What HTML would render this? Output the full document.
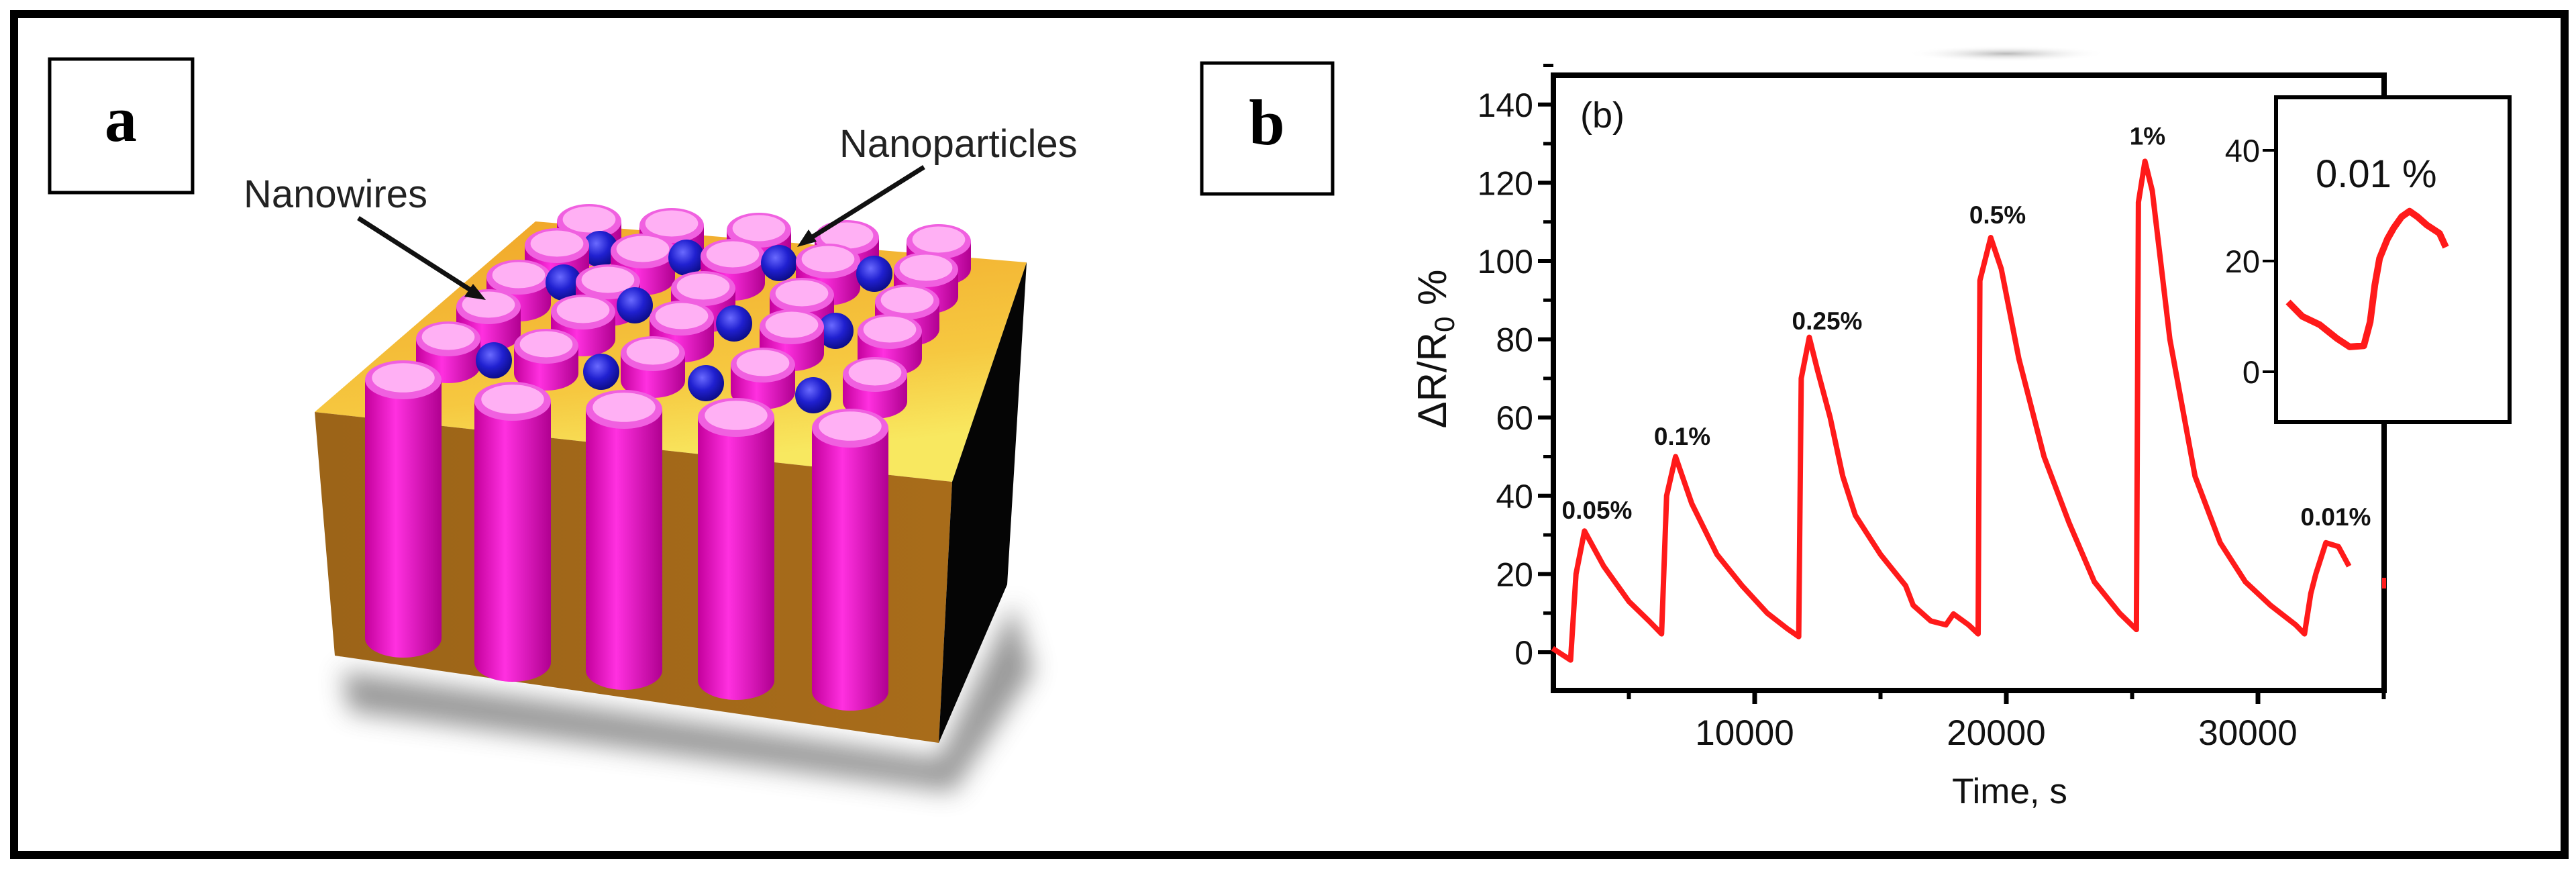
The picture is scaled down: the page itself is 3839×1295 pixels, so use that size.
<!DOCTYPE html>
<html><head><meta charset="utf-8">
<style>
html,body{margin:0;padding:0;background:#fff;}
svg{display:block;font-family:"Liberation Sans",sans-serif;}
</style></head>
<body>
<svg id="fig" width="3839" height="1295" viewBox="0 0 3839 1295" xmlns="http://www.w3.org/2000/svg">
<defs>
<linearGradient id="mag" x1="0" x2="1" y1="0" y2="0">
<stop offset="0" stop-color="#c4009c"/><stop offset="0.4" stop-color="#ff30e0"/><stop offset="1" stop-color="#b00090"/>
</linearGradient>
<radialGradient id="ball" cx="0.4" cy="0.35" r="0.7">
<stop offset="0" stop-color="#6a6aff"/><stop offset="0.5" stop-color="#2020d0"/><stop offset="1" stop-color="#0a0a80"/>
</radialGradient>
<linearGradient id="topface" x1="0" x2="0.3" y1="0" y2="1">
<stop offset="0" stop-color="#f0a428"/><stop offset="0.7" stop-color="#f6c840"/><stop offset="1" stop-color="#f8e860"/>
</linearGradient>
<linearGradient id="front" x1="0" x2="1"><stop offset="0" stop-color="#9c6418"/><stop offset="1" stop-color="#a86c1a"/></linearGradient>
<filter id="blur" x="-20%" y="-50%" width="140%" height="200%"><feGaussianBlur stdDeviation="18"/></filter>
<radialGradient id="smudge" cx="0.5" cy="0.5" r="0.5"><stop offset="0" stop-color="#999" stop-opacity="0.7"/><stop offset="1" stop-color="#fff" stop-opacity="0"/></radialGradient>
</defs>
<rect x="21" y="21" width="3801" height="1253" fill="#fff" stroke="#000" stroke-width="12"/>

<!-- Panel a -->
<g>
<rect x="74" y="88" width="213" height="199" fill="#fff" stroke="#000" stroke-width="5"/>
<text x="180" y="210" font-family="Liberation Serif,serif" font-weight="bold" font-size="96" text-anchor="middle">a</text>
<polygon points="510,1000 1400,1130 1510,900 1540,1000 1420,1180 520,1060" fill="#555" opacity="0.6" filter="url(#blur)"/>
<polygon points="469,614 798,330 1530,391 1419,718" fill="url(#topface)"/>
<polygon points="469,614 1419,718 1399,1107 499,977" fill="url(#front)"/>
<polygon points="1419,718 1530,391 1501,871 1399,1107" fill="#050505"/>
<g id="wires"></g>
<text x="363" y="309" font-size="58" fill="#222">Nanowires</text>
<line x1="534" y1="325" x2="712" y2="439" stroke="#111" stroke-width="7"/>
<polygon points="724,447 692,442 705,423" fill="#111"/>
<text x="1251" y="234" font-size="58" fill="#222">Nanoparticles</text>
<line x1="1377" y1="249" x2="1198" y2="361" stroke="#111" stroke-width="7"/>
<polygon points="1188,368 1205,342 1217,360" fill="#111"/>
</g>

<!-- Panel b -->
<g>
<rect x="1791" y="94" width="195" height="195" fill="#fff" stroke="#000" stroke-width="5"/>
<text x="1888" y="215" font-family="Liberation Serif,serif" font-weight="bold" font-size="96" text-anchor="middle">b</text>
<ellipse cx="2990" cy="80" rx="150" ry="12" fill="url(#smudge)"/>
<g id="chart"></g>
</g>
</svg>
<script>
// ===== chart data =====
const timeVals = [1968,2683,2900,3237,4000,5000,5800,6300,6500,6856,7500,8500,9500,10500,11300,11750,11850,12170,12500,13000,13500,14000,15000,16000,16300,17000,17600,17900,18500,18880,18950,19380,19800,20500,21500,22500,23500,24500,25170,25250,25510,25800,26500,27500,28500,29500,30500,31500,31850,32100,32300,32700,33200,33620];
const respVals = [1,-2,20,31,22,13,8,4.7,40,50,38,25,17,10,6,4,70,80.5,72,60,45,35,25,17,12,8,7,9.8,7,4.7,95,106,98,75,50,33,18,10,5.8,115,125.5,118,80,45,28,18,12,7,4.7,15,20,28,27,22];
const peakLabels = ["0.05%","0.1%","0.25%","0.5%","1%","0.01%"];
const peakLabelTimes = [3733,7120,12880,19653,25613,33093];
const peakLabelVals = [34.1,53,82.5,109.6,129.8,32.4];
const yTicks = [0,20,40,60,80,100,120,140];
const xTicks = [10000,20000,30000];
const xMinorTicks = [5000,15000,25000,35000];
const insetU = [0,9,20,31,39,48,52,55,58,63,67,72,77,82,88,96,100];
const insetVals = [12.6,10,8.5,6,4.5,4.7,9,15.7,20.5,24,26,28,29,28,26.5,25,22.5];
const insetTicks = [0,20,40];

// ===== nanowire illustration data =====
const backRows = [
 [[878,330],[1001,336],[1131,343],[1262,354],[1399,360]],
 [[830,366],[958,374],[1092,382],[1234,389],[1380,402]],
 [[773,413],[906,420],[1048,430],[1195,440],[1352,450]],
 [[728,457],[869,465],[1016,474],[1180,487],[1326,494]],
 [[668,505],[814,516],[973,527],[1137,544],[1304,558]]
];
const balls = [[894,371],[1023,384],[1161,392],[1303,408],[840,421],[946,455],[1094,482],[1245,493],[736,537],[896,554],[1052,571],[1212,589]];
const frontWires = [[601,566,951],[764,598,987],[930,610,999],[1097,622,1014],[1267,638,1030]];

const NS="http://www.w3.org/2000/svg";
function mk(tag, attrs, parent){const e=document.createElementNS(NS,tag);for(const k in attrs)e.setAttribute(k,attrs[k]);parent.appendChild(e);return e;}

// illustration
const wires=document.getElementById('wires');
const items=[];
backRows.forEach(r=>r.forEach(p=>items.push({k:'s',x:p[0],y:p[1],o:p[1]})));
balls.forEach(b=>items.push({k:'b',x:b[0],y:b[1],o:b[1]-8}));
frontWires.forEach(w=>items.push({k:'t',x:w[0],y:w[1],b:w[2],o:w[1]}));
items.sort((a,b)=>a.o-b.o);
items.forEach(it=>{
  if(it.k==='b'){
    const c=mk('circle',{cx:it.x,cy:it.y,r:27,fill:'url(#ball)'},wires);
    
    
    return;
  }
  const rx=it.k==='t'?57:48, ry=it.k==='t'?29:26, h=it.k==='t'?(it.b-it.y):40;
  const g=mk('g',{},wires);
  
  
  mk('rect',{x:it.x-rx,y:it.y,width:2*rx,height:h,fill:'url(#mag)'},g);
  mk('ellipse',{cx:it.x,cy:it.y+h,rx:rx,ry:ry,fill:'url(#mag)'},g);
  mk('ellipse',{cx:it.x,cy:it.y,rx:rx,ry:ry,fill:'#f060e0'},g);
  mk('ellipse',{cx:it.x,cy:it.y-3,rx:rx*0.82,ry:ry*0.75,fill:'#ffb0f4'},g);
});

// chart axes
const chart=document.getElementById('chart');
const X0=2315,X1=3553,Y0=112,Y1=1029;
const xS=t=>2615+(t-10000)*0.0375;
const yS=v=>972-v*5.83;
const frame=mk('rect',{x:X0,y:Y0,width:X1-X0,height:Y1-Y0,fill:'none',stroke:'#000','stroke-width':8},chart);


yTicks.forEach(v=>{
  const l=mk('line',{x1:X0-23,x2:X0,y1:yS(v),y2:yS(v),stroke:'#000','stroke-width':6},chart);
  
  
  const m=mk('line',{x1:X0-15,x2:X0,y1:yS(v+10),y2:yS(v+10),stroke:'#000','stroke-width':5},chart);
  
  
  const t=mk('text',{x:X0-30,y:yS(v)+18,'font-size':50,'text-anchor':'end',fill:'#111'},chart);
  
  
  t.textContent=v;
});
xTicks.forEach(v=>{
  const l=mk('line',{x1:xS(v),x2:xS(v),y1:Y1,y2:Y1+20,stroke:'#000','stroke-width':7},chart);
  
  
  const t=mk('text',{x:xS(v)-15,y:1110,'font-size':53,'text-anchor':'middle',fill:'#111'},chart);
  
  
  t.textContent=v;
});
xMinorTicks.forEach(v=>{
  const l=mk('line',{x1:xS(v),x2:xS(v),y1:Y1,y2:Y1+13,stroke:'#000','stroke-width':6},chart);
  
  
});
const xt=mk('text',{x:2995,y:1197,'font-size':53,'text-anchor':'middle',fill:'#111'},chart);


xt.textContent='Time, s';
const yt=mk('text',{x:0,y:0,'font-size':60,'text-anchor':'middle',fill:'#111',transform:'translate(2155,520) rotate(-90)'},chart);


yt.innerHTML='ΔR/R<tspan font-size="42" dy="12">0</tspan><tspan dy="-12"> %</tspan>';
const bl=mk('text',{x:2355,y:190,'font-size':54,fill:'#111'},chart);


bl.textContent='(b)';

// series
const line=mk('polyline',{points:timeVals.map((t,i)=>xS(t)+','+yS(respVals[i])).join(' '),fill:'none',stroke:'#ff1a1a','stroke-width':8,'stroke-linejoin':'round'},chart);


peakLabels.forEach((s,i)=>{
  const t=mk('text',{x:xS(peakLabelTimes[i]),y:yS(peakLabelVals[i]),'font-size':37,'font-weight':'bold','text-anchor':'middle',fill:'#111'},chart);
  
  
  t.textContent=s;
});
const dot=mk('rect',{x:3550,y:861,width:6,height:16,fill:'#ff1a1a'},chart);



// inset
const IX0=3392,IX1=3740,IY0=145,IY1=629;
const ixS=u=>3410+u*2.35;
const iyS=v=>554-v*8.25;
const ib=mk('rect',{x:IX0,y:IY0,width:IX1-IX0,height:IY1-IY0,fill:'#fff',stroke:'#000','stroke-width':6},chart);


insetTicks.forEach(v=>{
  const l=mk('line',{x1:IX0-20,x2:IX0,y1:iyS(v),y2:iyS(v),stroke:'#000','stroke-width':4},chart);
  
  
  const t=mk('text',{x:IX0-24,y:iyS(v)+17,'font-size':47,'text-anchor':'end',fill:'#111'},chart);
  
  
  t.textContent=v;
});
const it2=mk('text',{x:3451,y:279,'font-size':58,fill:'#111'},chart);


it2.textContent='0.01 %';
const il=mk('polyline',{points:insetU.map((u,i)=>ixS(u)+','+iyS(insetVals[i])).join(' '),fill:'none',stroke:'#ff1a1a','stroke-width':10,'stroke-linejoin':'round'},chart);


</script>
</body></html>
